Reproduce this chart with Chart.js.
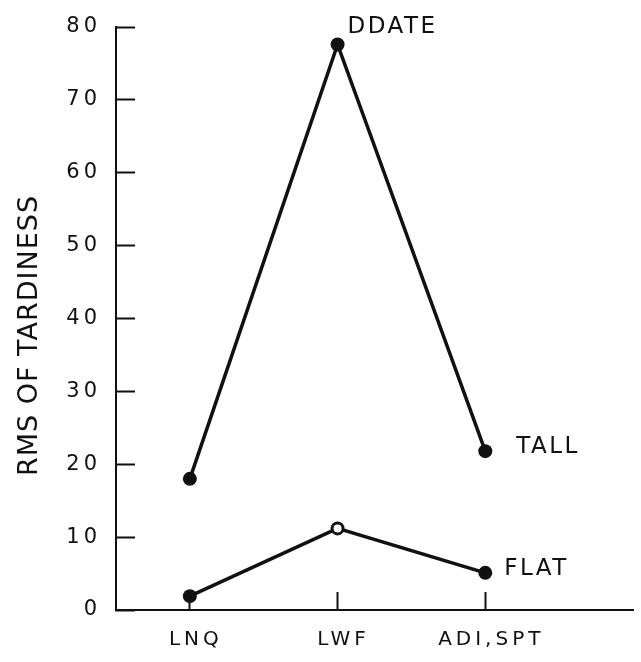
<!DOCTYPE html>
<html>
<head>
<meta charset="utf-8">
<script src="https://cdn.jsdelivr.net/npm/chart.js@4"></script>
<style>
  html, body { margin: 0; padding: 0; background: #ffffff; }
  canvas { display: block; }
</style>
</head>
<body>
<canvas id="chart" width="641" height="662"></canvas>
<script>
// Sequencing rules compared on the x axis
const categories = ['LNQ', 'LWF', 'ADI,SPT'];
// RMS of tardiness for the two due-date settings
const ddateTall = [18.0, 77.6, 21.8];
const ddateFlat = [1.9, 11.2, 5.1];
// Y axis range and step
const yMin = 0, yMax = 80, yStep = 10;
// Text placed next to the curves: [dataset, point index, text, dx, dy]
const curveLabels = [
  [0, 1, 'DDATE', 10, -11],
  [0, 2, 'TALL', 31, 2],
  [1, 2, 'FLAT', 19, 2]
];

const INK = '#111111';
const FONT = '"DejaVu Sans", sans-serif';

const toPoints = arr => arr.map((v, i) => ({ x: i, y: v }));

// Keep the plot area fixed: no extra room reserved for label overhang
const noOverhang = scale => {
  scale.paddingTop = 0;
  scale.paddingBottom = 0;
  scale.paddingLeft = 0;
  scale.paddingRight = 0;
};

// Letter-spaced lettering for all axis text, plus the curve names and axis title
const lettering = {
  id: 'lettering',
  beforeDraw(chart) {
    chart.ctx.letterSpacing = '4px';
  },
  afterDatasetsDraw(chart) {
    const ctx = chart.ctx;
    ctx.save();
    ctx.fillStyle = INK;
    ctx.font = '23px ' + FONT;
    ctx.letterSpacing = '2.5px';
    ctx.textAlign = 'left';
    ctx.textBaseline = 'alphabetic';
    curveLabels.forEach(([ds, idx, text, dx, dy]) => {
      const pt = chart.getDatasetMeta(ds).data[idx];
      ctx.fillText(text, pt.x + dx, pt.y + dy);
    });
    // Y axis title
    const ys = chart.scales.y;
    ctx.translate(30, (ys.top + ys.bottom) / 2 + 17);
    ctx.rotate(-Math.PI / 2);
    ctx.font = '27px ' + FONT;
    ctx.letterSpacing = '1px';
    ctx.textAlign = 'center';
    ctx.textBaseline = 'middle';
    ctx.fillText('RMS OF TARDINESS', 0, 0);
    ctx.restore();
  }
};

new Chart(document.getElementById('chart'), {
  type: 'line',
  data: {
    datasets: [
      {
        label: 'TALL',
        data: toPoints(ddateTall),
        borderColor: INK,
        borderWidth: 3.5,
        backgroundColor: INK,
        pointRadius: 7,
        pointBorderWidth: 0,
        pointBackgroundColor: INK,
        tension: 0
      },
      {
        label: 'FLAT',
        data: toPoints(ddateFlat),
        borderColor: INK,
        borderWidth: 3.5,
        backgroundColor: INK,
        pointRadius: [7, 5.5, 7],
        pointBorderWidth: [0, 3, 0],
        pointBorderColor: INK,
        pointBackgroundColor: [INK, '#ffffff', INK],
        tension: 0
      }
    ]
  },
  options: {
    responsive: false,
    animation: false,
    devicePixelRatio: 1,
    layout: { padding: { top: 27, right: 8, left: 0, bottom: 0 } },
    plugins: {
      legend: { display: false },
      tooltip: { enabled: false }
    },
    scales: {
      x: {
        type: 'linear',
        position: 'bottom',
        min: -0.5,
        max: 3.0,
        afterBuildTicks(scale) {
          scale.ticks = categories.map((_, i) => ({ value: i }));
        },
        afterFit(scale) { scale.height = 52; noOverhang(scale); },
        grid: {
          display: true,
          drawOnChartArea: false,
          drawTicks: true,
          tickLength: -18,
          tickWidth: 2,
          tickColor: INK
        },
        border: { display: true, color: INK, width: 2 },
        ticks: {
          autoSkip: false,
          maxRotation: 0,
          padding: 36,
          labelOffset: 6,
          color: INK,
          font: { family: FONT, size: 20 },
          callback: v => categories[v] ?? ''
        }
      },
      y: {
        type: 'linear',
        min: yMin,
        max: yMax,
        afterFit(scale) { scale.width = 116; noOverhang(scale); },
        grid: {
          display: true,
          drawOnChartArea: false,
          drawTicks: true,
          tickLength: -19,
          tickWidth: 2,
          tickColor: INK
        },
        border: { display: true, color: INK, width: 2 },
        ticks: {
          stepSize: yStep,
          padding: 34,
          color: INK,
          font: { family: FONT, size: 21 }
        }
      }
    }
  },
  plugins: [lettering]
});
</script>
</body>
</html>
